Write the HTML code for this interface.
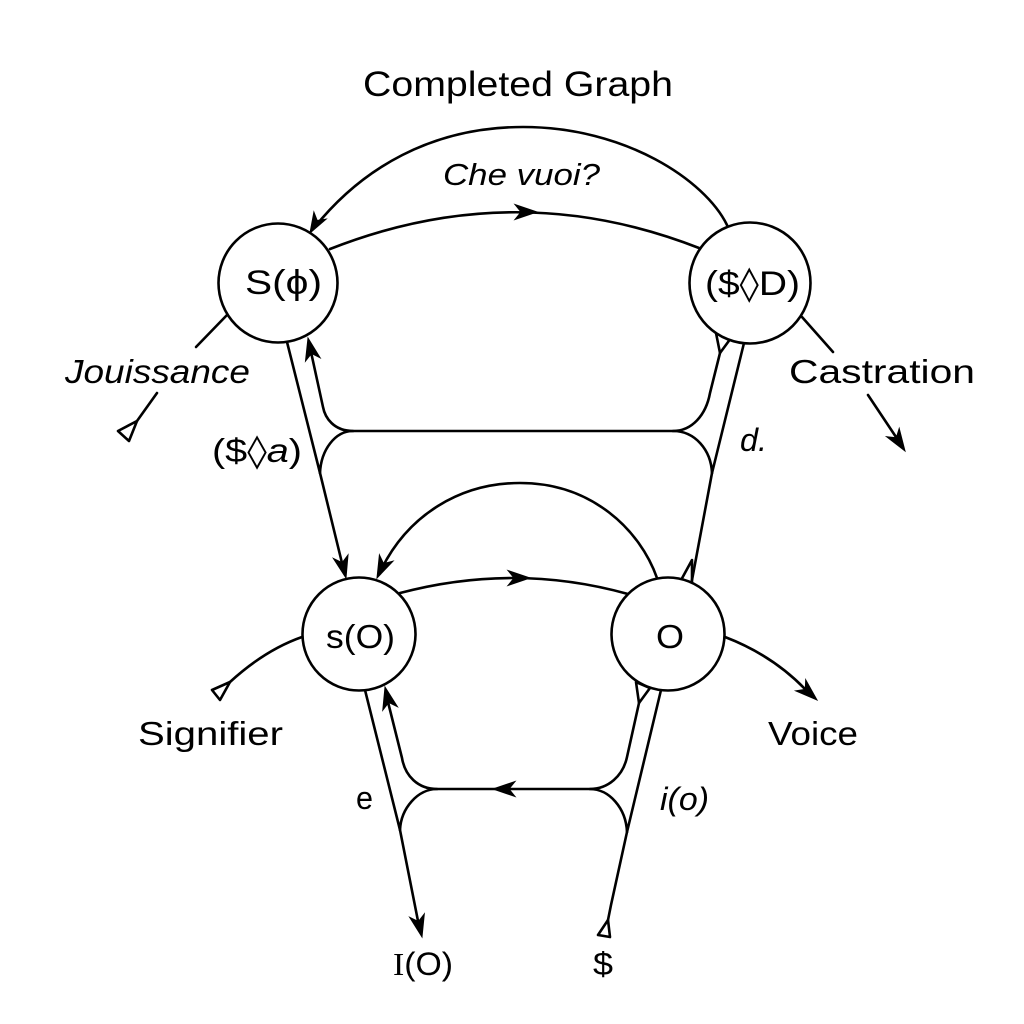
<!DOCTYPE html>
<html>
<head>
<meta charset="utf-8">
<style>
html,body{margin:0;padding:0;background:#fff;}
svg{display:block;}
text{font-family:"Liberation Sans",sans-serif;fill:#000;}
.it{font-style:italic;}
.dj{font-family:"DejaVu Sans",sans-serif;}
</style>
</head>
<body>
<svg width="1024" height="1024" viewBox="0 0 1024 1024" xmlns="http://www.w3.org/2000/svg">
<rect width="1024" height="1024" fill="#fff"/>

<g fill="none" stroke="#000" stroke-width="2.6" stroke-linecap="round" stroke-linejoin="round">
  <!-- top "Che vuoi?" arc -->
  <path d="M727,225 C705,180 625,127 523,127 C432,127 362,168 314,228"/>
  <!-- top horizontal S(phi) -> ($<>D) -->
  <path d="M330,249 Q515,176 699,248"/>
  <!-- lower arc O -> s(O) -->
  <path d="M657,578 C640,530 592,483 520,483 C460,483 408,515 381,570"/>
  <!-- lower horizontal s(O) -> O -->
  <path d="M400,593 Q515,562.5 628,594"/>

  <!-- S(phi) -> s(O) straight -->
  <path d="M287,342 L320,473 L342,563"/>
  <!-- ($<>D) -> O straight -->
  <path d="M744,343 L712,473 L692,580"/>

  <!-- upper loop -->
  <path d="M720,353 L710,393 C706,415 692,431 673,431 L353,431 C334,431 325,418 323,407 L311,352"/>
  <path d="M353,431 C335,431 321,450 320,473"/>
  <path d="M673,431 C695,431 711,450 712,473"/>

  <!-- s(O) -> I(O) -->
  <path d="M365,690 L400,830 L418,921"/>
  <!-- $ -> O -->
  <path d="M661,690 L627,832 L611,905 L608,920"/>

  <!-- bottom loop -->
  <path d="M639,703 L627,757 C623,776 608,789 590,789 L437,789 C418,789 405,776 402,758 L388,702"/>
  <path d="M437,789 C418,789 401,808 400,830"/>
  <path d="M590,789 C609,789 626,808 627,832"/>

  <!-- Jouissance -->
  <path d="M227,315 L196,347"/>
  <path d="M157,393 L137,421"/>
  <!-- Castration -->
  <path d="M802,317 L833,352"/>
  <path d="M868,395 L896,437"/>
  <!-- Signifier -->
  <path d="M302,637 Q265,650 230,682"/>
  <!-- Voice -->
  <path d="M725,637 Q772,655 805,689"/>

  <!-- open triangles -->
  <path d="M137,421 L118,431 L129,441 Z"/>
  <path d="M230,682 L212,690 L220,700 Z"/>
  <path d="M608,920 L598,935 L610,937 Z"/>
  <path d="M720,353 L716,333 L731,338 Z"/>
  <path d="M692,560 L680,582 L692,582 Z"/>
  <path d="M639,703 L636,682 L650,688 Z"/>
</g>

<!-- circles -->
<g fill="#fff" stroke="#000" stroke-width="2.6">
  <circle cx="278" cy="283" r="59.5"/>
  <circle cx="750" cy="283" r="60.5"/>
  <circle cx="359" cy="634" r="56.5"/>
  <circle cx="668" cy="634" r="56.5"/>
</g>

<!-- arrowheads -->
<g fill="#000" stroke="#000" stroke-width="1" stroke-linejoin="miter">
  <polygon points="310,233 326.1,219.1 317.2,220.5 313.9,212.1"/>
  <polygon points="537,212 515,204.5 521,212 515,219.5"/>
  <polygon points="346,578 348,554.9 342.2,562.7 333.4,558.5"/>
  <polygon points="377,578 393,561.2 383.6,563.6 379.4,554.9"/>
  <polygon points="530,578 508,570.5 514,578 508,585.5"/>
  <polygon points="308,338 320.1,357.8 311.5,353.4 305.5,361.1"/>
  <polygon points="385,687 397.4,706.7 388.7,702.4 382.8,710.2"/>
  <polygon points="493,789 515,781.5 509,789 515,796.5"/>
  <polygon points="422,937 424.3,913.9 418.4,921.6 409.7,917.3"/>
  <polygon points="817,700 805.7,679.8 805.3,689.4 795.7,690.9"/>
  <polygon points="905,451 899.2,428.5 896.3,437.8 886.6,436.7"/>
</g>

<!-- labels -->
<text x="363" y="96" font-size="35" textLength="310" lengthAdjust="spacingAndGlyphs">Completed Graph</text>
<text class="it" x="443" y="185" font-size="31" textLength="157" lengthAdjust="spacingAndGlyphs">Che vuoi?</text>
<text x="245" y="294" font-size="34" textLength="77" lengthAdjust="spacingAndGlyphs">S(ϕ)</text>
<text x="705" y="295" font-size="34" textLength="95" lengthAdjust="spacingAndGlyphs">($<tspan class="dj">◊</tspan>D)</text>
<text class="it" x="65" y="383" font-size="33" textLength="185" lengthAdjust="spacingAndGlyphs">Jouissance</text>
<text x="212" y="462" font-size="33" textLength="90" lengthAdjust="spacingAndGlyphs">($<tspan class="dj">◊</tspan><tspan font-style="italic">a</tspan>)</text>
<text x="789" y="383" font-size="33" textLength="186" lengthAdjust="spacingAndGlyphs">Castration</text>
<text class="it" x="740" y="451" font-size="32" textLength="27" lengthAdjust="spacingAndGlyphs">d.</text>
<text x="326" y="648" font-size="33" textLength="69" lengthAdjust="spacingAndGlyphs">s(O)</text>
<text x="656" y="648" font-size="33" textLength="28" lengthAdjust="spacingAndGlyphs">O</text>
<text x="138" y="745" font-size="33" textLength="145" lengthAdjust="spacingAndGlyphs">Signifier</text>
<text x="768" y="745" font-size="33" textLength="90" lengthAdjust="spacingAndGlyphs">Voice</text>
<text x="356" y="809" font-size="32" textLength="17" lengthAdjust="spacingAndGlyphs">e</text>
<text class="it" x="660" y="810" font-size="32" textLength="49" lengthAdjust="spacingAndGlyphs">i(o)</text>
<text x="393" y="975" font-size="32" textLength="60" lengthAdjust="spacingAndGlyphs"><tspan font-family="Liberation Serif, serif">I</tspan>(O)</text>
<text x="593" y="975" font-size="32" textLength="20" lengthAdjust="spacingAndGlyphs">$</text>
</svg>
</body>
</html>
